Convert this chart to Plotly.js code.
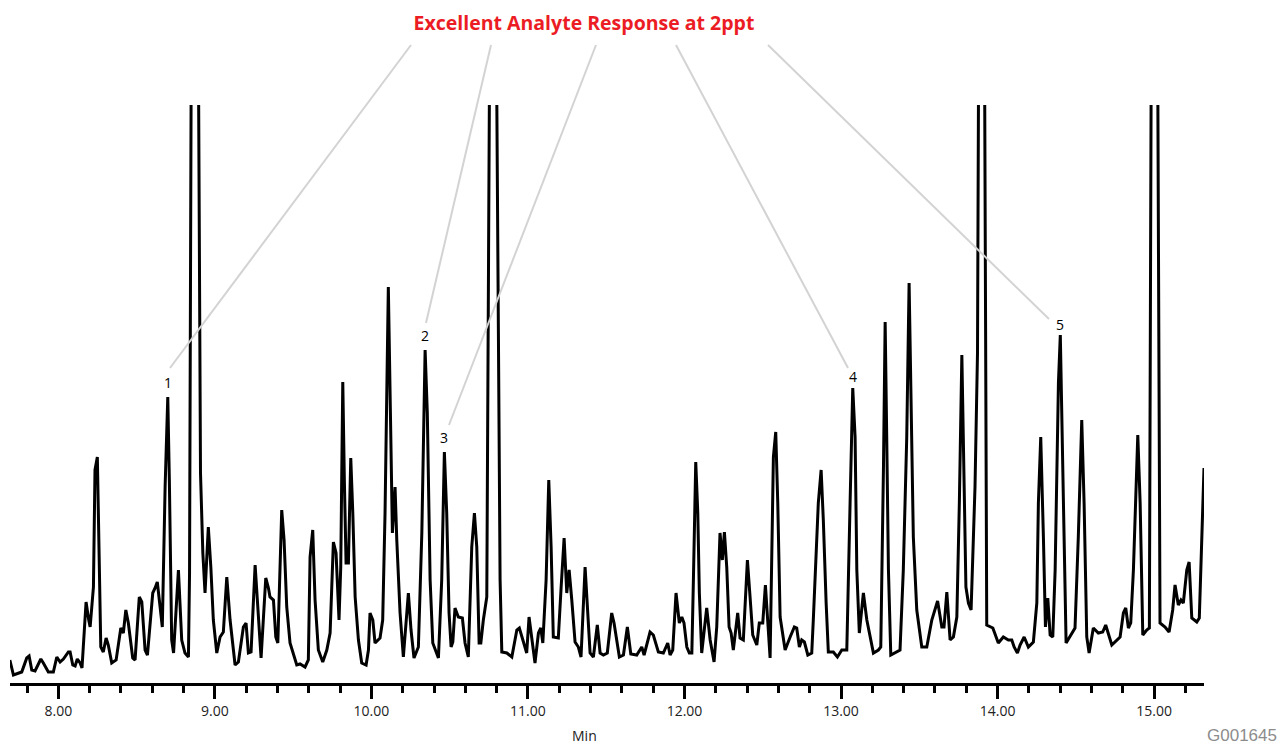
<!DOCTYPE html>
<html>
<head>
<meta charset="utf-8">
<script src="https://cdn.plot.ly/plotly-3.0.1.min.js"></script>
<style>
html,body{margin:0;padding:0;background:#fff;}
#chart{width:1280px;height:745px;}
</style>
</head>
<body>
<div id="chart"></div>
<script>
// Retention time (min)
const retentionTime = [
7.690,7.713,7.766,7.798,7.813,7.830,7.851,7.888,7.904,7.936,7.968,7.990,8.011,8.032,8.064,8.075,8.092,8.107,8.121,8.139,
8.151,8.177,8.194,8.203,8.224,8.234,8.249,8.258,8.271,8.287,8.305,8.319,8.341,8.369,8.399,8.415,8.431,8.447,8.475,8.490,
8.517,8.533,8.554,8.569,8.603,8.618,8.632,8.650,8.664,8.682,8.699,8.709,8.724,8.736,8.767,8.788,8.809,8.831,8.838,8.867,
8.902,8.908,8.923,8.937,8.958,8.974,8.990,9.012,9.033,9.054,9.076,9.097,9.129,9.150,9.182,9.199,9.214,9.231,9.257,9.278,
9.295,9.325,9.342,9.352,9.374,9.389,9.402,9.427,9.442,9.459,9.480,9.523,9.544,9.576,9.597,9.608,9.625,9.640,9.661,9.689,
9.715,9.736,9.757,9.774,9.793,9.804,9.817,9.827,9.838,9.853,9.868,9.881,9.896,9.917,9.938,9.966,9.981,9.991,10.009,10.023,
10.055,10.072,10.087,10.108,10.119,10.134,10.151,10.162,10.183,10.204,10.236,10.253,10.272,10.300,10.322,10.343,10.357,10.375,10.392,10.428,
10.449,10.466,10.481,10.496,10.509,10.520,10.534,10.555,10.581,10.598,10.619,10.641,10.658,10.673,10.688,10.699,10.715,10.737,10.774,10.812,
10.822,10.833,10.865,10.897,10.929,10.945,10.971,10.992,11.007,11.024,11.045,11.067,11.082,11.095,11.116,11.133,11.148,11.162,11.194,11.212,
11.231,11.248,11.263,11.280,11.301,11.322,11.339,11.365,11.380,11.397,11.418,11.443,11.461,11.482,11.507,11.535,11.550,11.584,11.610,11.635,
11.657,11.695,11.727,11.742,11.780,11.801,11.833,11.865,11.893,11.908,11.925,11.946,11.967,11.983,11.997,12.015,12.031,12.047,12.057,12.072,
12.085,12.095,12.110,12.142,12.164,12.189,12.206,12.227,12.242,12.255,12.270,12.285,12.298,12.312,12.340,12.355,12.376,12.402,12.419,12.436,
12.462,12.478,12.500,12.517,12.547,12.568,12.583,12.596,12.611,12.643,12.675,12.702,12.717,12.734,12.749,12.766,12.788,12.813,12.823,12.855,
12.873,12.887,12.905,12.919,12.951,12.977,13.005,13.037,13.058,13.075,13.090,13.101,13.117,13.143,13.165,13.186,13.207,13.239,13.254,13.271,
13.282,13.292,13.303,13.318,13.345,13.377,13.398,13.420,13.435,13.448,13.462,13.484,13.516,13.548,13.580,13.617,13.644,13.658,13.676,13.697,
13.718,13.740,13.756,13.772,13.783,13.798,13.814,13.831,13.856,13.872,13.898,13.931,13.970,14.005,14.037,14.069,14.091,14.106,14.127,14.144,
14.170,14.197,14.229,14.251,14.261,14.276,14.293,14.306,14.321,14.336,14.353,14.368,14.389,14.401,14.421,14.438,14.495,14.516,14.538,14.553,
14.570,14.585,14.612,14.644,14.672,14.691,14.730,14.762,14.783,14.804,14.819,14.836,14.851,14.868,14.896,14.911,14.928,14.953,14.970,15.000,
15.038,15.070,15.096,15.119,15.134,15.155,15.172,15.187,15.209,15.224,15.241,15.273,15.289,15.319
];
// Detector response (arbitrary units)
const response = [
23,8,11,25,27,13,12,24,20,11,11,26,21,24,31,31,18,17,24,20,
15,81,63,56,96,213,226,136,36,31,45,38,20,23,55,50,73,60,25,23,
86,81,33,28,90,95,101,76,56,196,286,203,43,30,113,43,30,26,110,1500,
300,210,130,90,156,116,63,30,46,51,106,63,18,21,56,60,30,31,118,70,
25,105,95,86,83,46,40,173,143,76,40,18,19,16,23,126,153,83,33,21,
33,50,141,130,63,116,301,203,120,120,225,170,86,43,20,18,33,70,63,40,
45,63,170,396,270,150,196,143,70,26,90,53,25,36,150,333,270,103,40,25,
103,231,170,70,36,41,75,66,65,40,26,136,170,136,40,40,63,86,1200,250,
103,31,30,26,53,55,40,30,66,46,20,50,55,40,103,203,136,46,45,96,
145,90,113,83,41,36,26,116,80,30,26,58,30,28,30,70,60,26,28,56,
29,28,36,28,51,48,31,30,40,28,33,90,60,66,60,36,30,30,103,221,
170,90,30,75,43,21,56,150,123,151,116,56,50,33,70,45,43,123,86,48,
38,60,60,98,25,226,251,180,66,33,46,56,55,36,43,41,28,30,63,180,
213,163,80,31,31,26,33,33,180,295,246,113,50,90,63,46,30,33,36,213,
361,246,113,28,30,33,113,246,400,280,146,73,36,36,63,82,56,56,91,43,
46,66,180,328,213,96,80,73,196,330,1400,58,55,40,46,43,43,36,30,38,
46,36,41,80,180,246,146,56,85,48,46,113,300,348,180,40,55,146,263,180,
46,30,55,50,51,58,38,43,46,70,75,55,60,113,248,180,48,53,55,1500,
60,56,51,73,98,78,83,80,113,121,65,61,65,215
];
// Numbered analyte peaks
const peakLabels = ['1','2','3','4','5'];
const peakTimes = [8.699, 10.343, 10.466, 13.075, 14.401];
const peakHeights = [286, 333, 231, 295, 348];
const tickValues = [8,9,10,11,12,13,14,15];
const tickLabels = ['8.00','9.00','10.00','11.00','12.00','13.00','14.00','15.00'];

const W = 1280, H = 745, ML = 10, MR = 76, MT = 105, MB = 62;
const PW = W - ML - MR, PH = H - MT - MB;
const px2x = p => (p - ML) / PW;
const py2y = p => (H - MB - p) / PH;

// leader lines: from title to labels (pixel geometry)
const leaders = [
  [411,45,170,368],[491,45,426,323],[596,45,449,425],[676,45,848,368],[768,45,1049,319]
];
const shapes = leaders.map(l => ({
  type:'line', xref:'paper', yref:'paper',
  x0:px2x(l[0]), y0:py2y(l[1]), x1:px2x(l[2]), y1:py2y(l[3]),
  line:{color:'#d3d3d3', width:2}
}));

const labelShift = [3, 3, 3, 0, -1];
const annotations = peakLabels.map((t,i) => ({
  x: peakTimes[i], y: peakHeights[i], xref:'x', yref:'y', text:t, showarrow:false,
  yanchor:'bottom', yshift:labelShift[i], font:{family:'Open Sans, sans-serif', size:14, color:'#000'}
}));
annotations.push({
  xref:'paper', yref:'paper', x:px2x(584), y:py2y(735), text:'Min', showarrow:false,
  xanchor:'center', yanchor:'middle', font:{family:'Open Sans, sans-serif', size:14, color:'#222'}
});
annotations.push({
  xref:'paper', yref:'paper', x:px2x(1279), y:py2y(735), text:'G001645', showarrow:false,
  xanchor:'right', yanchor:'middle', font:{family:'Liberation Sans, Arial, sans-serif', size:17, color:'#8c8c8c'}
});

const trace = {
  x: retentionTime, y: response, type:'scatter', mode:'lines',
  line:{color:'#000', width:3, shape:'linear'}, hoverinfo:'x+y'
};

const layout = {
  width:W, height:H, margin:{l:ML, r:MR, t:MT, b:MB},
  paper_bgcolor:'#fff', plot_bgcolor:'#fff', showlegend:false,
  title:{text:'<b>Excellent Analyte Response at 2ppt</b>', xref:'container', yref:'container',
    x:584/W, y:1-23/H, xanchor:'center', yanchor:'middle',
    font:{family:'Open Sans, sans-serif', size:19.5, color:'#ec1c24'}},
  xaxis:{range:[7.691,15.319], showgrid:false, zeroline:false, showline:true, linecolor:'#000', linewidth:3,
    ticks:'outside', ticklen:13, tickwidth:3, tickcolor:'#000',
    tickvals:tickValues, ticktext:tickLabels,
    tickfont:{family:'Open Sans, sans-serif', size:14, color:'#222'},
    minor:{dtick:0.2, tick0:7.8, ticks:'outside', ticklen:7, tickwidth:3, tickcolor:'#000', showgrid:false}},
  yaxis:{range:[0,578], visible:false, showgrid:false, zeroline:false},
  shapes:shapes, annotations:annotations
};

Plotly.newPlot('chart', [trace], layout, {displayModeBar:false, staticPlot:true});
</script>
</body>
</html>
